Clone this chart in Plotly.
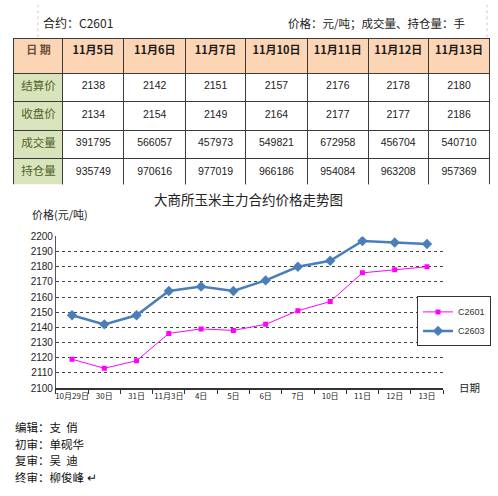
import plotly.graph_objects as go

# table data
table_dates = ['11月5日', '11月6日', '11月7日', '11月10日', '11月11日', '11月12日', '11月13日']
row_names = ['结算价', '收盘价', '成交量', '持仓量']
settle = [2138, 2142, 2151, 2157, 2176, 2178, 2180]
close = [2134, 2154, 2149, 2164, 2177, 2177, 2186]
volume = [391795, 566057, 457973, 549821, 672958, 456704, 540710]
open_int = [935749, 970616, 977019, 966186, 954084, 963208, 957369]

# chart data
chart_dates = ['10月29日', '30日', '31日', '11月3日', '4日', '5日', '6日', '7日', '10日', '11日', '12日', '13日']
c2601 = [2119, 2113, 2118, 2136, 2139, 2138, 2142, 2151, 2157, 2176, 2178, 2180]
c2603 = [2148, 2142, 2148, 2164, 2167, 2164, 2171, 2180, 2184, 2197, 2196, 2195]

footer = ['编辑：支  俏', '初审：单砚华', '复审：吴  迪', '终审：柳俊峰 ↵']

W, H = 498, 496
CJK = 'Noto Sans CJK SC'

fig = go.Figure()

# 表格
cols = [row_names] + [[settle[i], close[i], volume[i], open_int[i]] for i in range(len(table_dates))]
fig.add_trace(go.Table(
    domain=dict(x=[13 / W, 490 / W], y=[1 - 184 / H, 1 - 34 / H]),
    columnwidth=[49, 61, 62, 60, 62, 61, 60, 62],
    header=dict(
        values=['日 期'] + table_dates,
        fill_color='#FCD5B5',
        line=dict(color='#3a3a3a', width=1),
        align='center',
        height=35,
        font=dict(family=CJK, size=11, color=['#6b4c3a'] + ['#1a1a1a'] * 7, weight=600),
    ),
    cells=dict(
        values=cols,
        fill_color=[['#D8E4BC'] * 4] + [['white'] * 4] * 7,
        line=dict(color='#3a3a3a', width=1),
        align='center',
        height=28.5,
        font=dict(family=[CJK] + ['Liberation Sans'] * 7, size=[11.5] + [10.5] * 7,
                  color=[['#4f6228'] * 4] + [['#222'] * 4] * 7),
    ),
))

# 折线
fig.add_trace(go.Scatter(
    x=chart_dates, y=c2601, name='C2601', mode='lines+markers',
    line=dict(color='#FF00FF', width=1),
    marker=dict(symbol='square', size=5, color='#FF00FF'),
))
fig.add_trace(go.Scatter(
    x=chart_dates, y=c2603, name='C2603', mode='lines+markers',
    line=dict(color='#4A7EBB', width=2.5),
    marker=dict(symbol='diamond', size=8, color='#4A7EBB'),
))

annotations = [
    dict(text='合约：C2601', x=40 / W, y=1 - 18 / H, xanchor='left', font=dict(size=12)),
    dict(text='价格：元/吨；成交量、持仓量：手', x=467 / W, y=1 - 18 / H, xanchor='right', font=dict(size=11.5)),
    dict(text='大商所玉米主力合约价格走势图', x=248 / W, y=1 - 198 / H, xanchor='center', font=dict(size=13.5)),
    dict(text='价格(元/吨)', x=29 / W, y=1 - 214 / H, xanchor='left', font=dict(size=11)),
    dict(text='日期', x=457 / W, y=1 - 391 / H, xanchor='left', font=dict(size=10.5)),
]
for i, t in enumerate(footer):
    annotations.append(dict(text=t, x=12 / W, y=1 - (432 + 16.8 * i) / H, xanchor='left',
                            font=dict(size=11.5, color='#111')))
for a in annotations:
    a.update(xref='paper', yref='paper', yanchor='middle', showarrow=False)
    a['font'].setdefault('color', '#222')
    a['font']['family'] = CJK

# 顶部的虚线
shapes = []
for xv in [37, 487]:
    shapes.append(dict(type='line', xref='paper', yref='paper', x0=xv / W, x1=xv / W,
                       y0=1 - 33 / H, y1=1, line=dict(color='#cccccc', width=1, dash='dot')))

fig.update_layout(
    width=W, height=H,
    margin=dict(l=0, r=0, t=0, b=0),
    paper_bgcolor='white', plot_bgcolor='white',
    showlegend=True,
    legend=dict(x=491 / W, y=1 - 298 / H, xanchor='right', yanchor='top',
                bordercolor='#333', borderwidth=1, bgcolor='white',
                font=dict(family='Liberation Sans', size=9, color='#333'),
                itemwidth=30, tracegroupgap=0),
    xaxis=dict(domain=[55 / W, 443 / W], type='category', range=[-0.5, 11.5],
               tickson='boundaries', ticks='outside', ticklen=4, tickcolor='#333',
               showline=True, linecolor='#333', linewidth=1.5, showgrid=False,
               tickfont=dict(family=CJK, size=8, color='#222'), tickangle=0),
    yaxis=dict(domain=[1 - 391.7 / H, 1 - 236.7 / H], range=[2100, 2200], dtick=10,
               showline=True, linecolor='#555', linewidth=1,
               showgrid=True, gridcolor='#444', gridwidth=1, griddash='dot',
               ticks='', tickfont=dict(family='Liberation Sans', size=10, color='#222'),
               zeroline=False),
    annotations=annotations,
    shapes=shapes,
)

fig.write_html('out.html', config={'displayModeBar': False},
               post_script="document.body.style.margin='0';")
